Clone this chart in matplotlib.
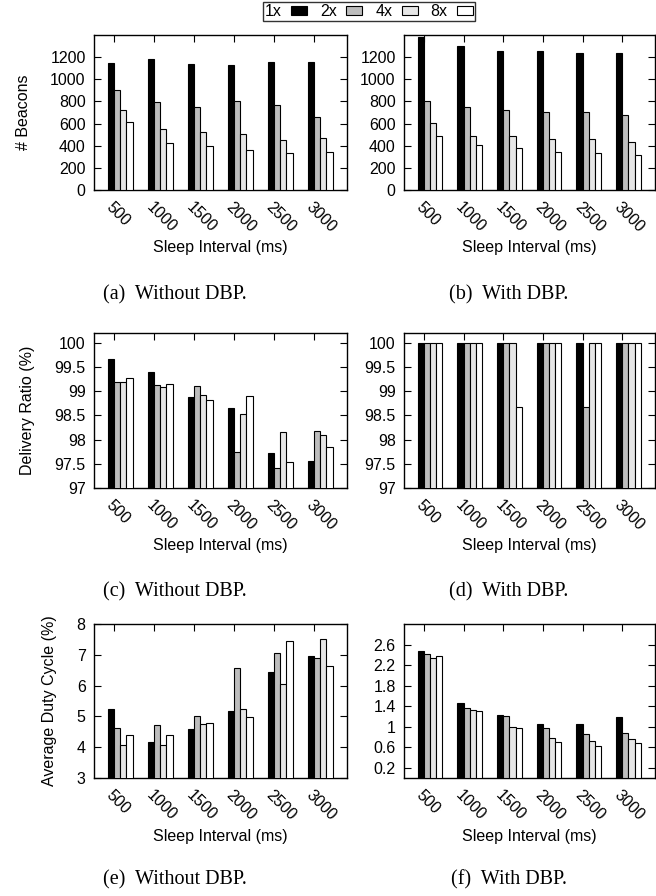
import numpy as np
import matplotlib
matplotlib.use("Agg")
import matplotlib.pyplot as plt
from matplotlib.ticker import FuncFormatter

plt.rcParams['font.family'] = ['Liberation Sans', 'DejaVu Sans']

sleep = ['500', '1000', '1500', '2000', '2500', '3000']
series = ['1x', '2x', '4x', '8x']
colors = ['#000000', '#bdbdbd', '#e6e6e6', '#ffffff']

# beacons
beacons_no = [
    [1146, 1185, 1137, 1131, 1152, 1152],
    [907, 796, 751, 802, 766, 663],
    [720, 555, 525, 504, 449, 467],
    [612, 422, 395, 359, 338, 341],
]
beacons_dbp = [
    [1385, 1304, 1259, 1259, 1235, 1235],
    [808, 751, 721, 700, 700, 681],
    [609, 488, 491, 464, 458, 431],
    [491, 410, 377, 341, 338, 320],
]

# delivery ratio (%)
delivery_no = [
    [99.67, 99.40, 98.88, 98.65, 97.73, 97.55],
    [99.19, 99.12, 99.10, 97.74, 97.42, 98.18],
    [99.19, 99.08, 98.92, 98.53, 98.15, 98.10],
    [99.28, 99.15, 98.81, 98.90, 97.53, 97.85],
]
delivery_dbp = [
    [100, 100, 100, 100, 100, 100],
    [100, 100, 100, 100, 98.67, 100],
    [100, 100, 100, 100, 100, 100],
    [100, 100, 98.67, 100, 100, 100],
]

# duty cycle (%)
duty_no = [
    [5.24, 4.16, 4.59, 5.18, 6.43, 6.96],
    [4.62, 4.71, 5.00, 6.57, 7.05, 6.89],
    [4.08, 4.08, 4.76, 5.24, 6.05, 7.50],
    [4.39, 4.38, 4.78, 4.98, 7.44, 6.64],
]
duty_dbp = [
    [2.48, 1.46, 1.23, 1.06, 1.05, 1.19],
    [2.42, 1.36, 1.20, 0.97, 0.85, 0.87],
    [2.33, 1.33, 0.99, 0.77, 0.72, 0.76],
    [2.38, 1.31, 0.98, 0.71, 0.63, 0.68],
]

W, H = 656, 896
fig = plt.figure(figsize=(W / 100, H / 100), dpi=100)


def make_ax(x0, top, w, h):
    return fig.add_axes([x0 / W, 1 - (top + h) / H, w / W, h / H])


def draw(ax, data, ylim, yticks, ylabel=None, xpad=4):
    x = np.arange(len(sleep))
    bw = 0.155
    for i, vals in enumerate(data):
        ax.bar(x + (i - 0.5) * bw, vals, bw, color=colors[i], edgecolor='black',
               linewidth=0.8, label=series[i], zorder=3)
    ax.set_xlim(-0.5, 5.825)
    ax.set_ylim(*ylim)
    ax.set_yticks(yticks)
    ax.yaxis.set_major_formatter(FuncFormatter(lambda v, p: '%g' % round(v, 3)))
    ax.set_xticks(x)
    ax.set_xticklabels(sleep, rotation=-45, ha='left', va='top',
                       rotation_mode='anchor', fontsize=11.5)
    ax.tick_params(axis='both', direction='in', length=5, width=0.8,
                   top=True, right=True, labelsize=11.5, pad=6)
    ax.tick_params(axis='x', pad=7)
    for s in ax.spines.values():
        s.set_linewidth(1.0)
    ax.set_xlabel('Sleep Interval (ms)', fontsize=11.5, labelpad=xpad)
    if ylabel:
        ax.set_ylabel(ylabel, fontsize=11.5, labelpad=14)


# row 1
ax = make_ax(94, 35, 253, 155)
draw(ax, beacons_no, (0, 1400), range(0, 1201, 200), '# Beacons', xpad=3)
ax = make_ax(404, 35, 251, 155)
draw(ax, beacons_dbp, (0, 1400), range(0, 1201, 200), xpad=3)

# row 2
dr_ticks = [97, 97.5, 98, 98.5, 99, 99.5, 100]
ax = make_ax(94, 333, 253, 155)
draw(ax, delivery_no, (97, 100.2), dr_ticks, 'Delivery Ratio (%)', xpad=3)
ax = make_ax(404, 333, 251, 155)
draw(ax, delivery_dbp, (97, 100.2), dr_ticks, xpad=3)

# row 3
ax = make_ax(94, 624, 253, 154)
draw(ax, duty_no, (3, 8), range(3, 9), 'Average Duty Cycle (%)')
ax = make_ax(404, 624, 251, 154)
draw(ax, duty_dbp, (0, 3), [0.2, 0.6, 1.0, 1.4, 1.8, 2.2, 2.6])

# captions
cap = dict(family=['Liberation Serif', 'DejaVu Serif'], fontsize=14.5,
           ha='center', va='center')
fig.text(175 / W, 1 - 295 / H, '(a)  Without DBP.', **cap)
fig.text(509 / W, 1 - 295 / H, '(b)  With DBP.', **cap)
fig.text(175 / W, 1 - 592 / H, '(c)  Without DBP.', **cap)
fig.text(509 / W, 1 - 592 / H, '(d)  With DBP.', **cap)
fig.text(175 / W, 1 - 880 / H, '(e)  Without DBP.', **cap)
fig.text(509 / W, 1 - 880 / H, '(f)  With DBP.', **cap)

handles, labels = fig.axes[0].get_legend_handles_labels()
leg = fig.legend(handles, labels, loc='center', bbox_to_anchor=(369 / W, 1 - 11.5 / H),
                 ncol=4, frameon=True, fancybox=False, markerfirst=False,
                 fontsize=11.5, handlelength=1.0, handleheight=0.5,
                 handletextpad=0.6, columnspacing=0.8, borderpad=0.1,
                 borderaxespad=0)
leg.get_frame().set_edgecolor('black')
leg.get_frame().set_linewidth(1.0)

fig.savefig('out.png', dpi=100)
